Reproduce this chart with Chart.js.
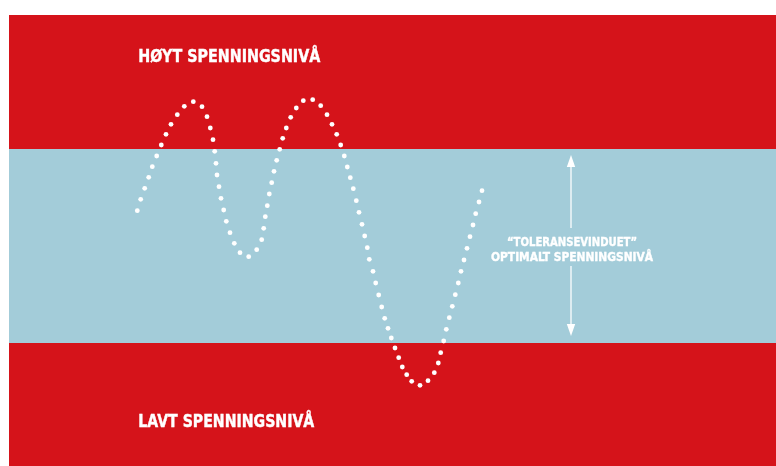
<!DOCTYPE html>
<html><head><meta charset="utf-8">
<script src="https://cdn.jsdelivr.net/npm/chart.js@4"></script>
<style>html,body{margin:0;padding:0;background:#fff;overflow:hidden}canvas{display:block}</style>
</head><body>
<canvas id="c" width="776" height="466" style="width:776px;height:466px"></canvas>
<script>
// Wave samples (x: time units, y: voltage units)
const waveX = [128.3,131.7,135.7,139.7,143.3,147.7,152.3,157,162,168.3,
  175.3,184.3,193,198,201.3,204,205.7,207,208,210,
  212,214.7,217.3,221,225.3,231,239.7,247.7,252.7,254.7,
  256.3,258.3,260.3,262.7,265,267.7,270.7,273.7,277.3,281.7,
  287.3,294.3,303.7,311.7,318,323,327.7,331.7,335.3,338.3,
  341.3,344.3,347.3,350,353,355.7,358.3,360.3,364,366.7,
  369.7,372.7,375.7,379,382.3,386,389.7,393.3,397.7,402.7,
  411,419,425.3,429.3,431.7,434.7,437.3,440.3,443.3,446.3,
  449.3,452,455,458,461,464,466.7,470,473];
const waveY = [255.3,266.7,277.7,288.7,299.3,310,321,331.7,341.7,351.3,
  359.7,364.3,359.3,349.3,338,326.3,314.7,302.7,291,279.3,
  267.7,256,244.7,233.3,222.7,213.3,209.3,216.3,226.3,237.7,
  249.3,260.3,272,283.3,294.7,305.7,316.7,327.7,338,348.7,
  358,365.3,366.3,360.3,351.3,341.7,331.7,321,310,299,
  288.3,277.3,265.3,253.7,241.7,230,218.3,206.7,194.7,183,
  171,159,147.7,137.7,128,118,108.3,99,91.3,84.7,
  80.7,85.3,93.3,103,113.3,125,136.7,148.3,159.7,171.3,
  183,194.7,206,217.7,229.3,241,252.3,264,275.3];
// Axis ranges
const xRange = [0, 767];
const yRange = [0, 451];
// Tolerance window limits (y units)
const toleranceBand = [123, 317];
// Arrow: x, tip values and gap for the label
const arrowX = 562;
const arrowTips = [130, 311];
const arrowGap = [200, 238];
// Labels and their anchor values [x, y]
const labelHigh = "HØYT SPENNINGSNIVÅ";
const labelLow = "LAVT SPENNINGSNIVÅ";
const labelWindow = ["“TOLERANSEVINDUET”", "OPTIMALT SPENNINGSNIVÅ"];
const labelHighPos = [129.3, 404.3];
const labelLowPos = [129.3, 38.7];
const labelWindowPos = [[563, 220.3], [563, 205.3]];

const RED = '#D5131A', BLUE = '#A3CCD9', WHITE = '#FFFFFF';
const FONT = '"Liberation Sans Narrow","DejaVu Sans Condensed","Roboto",sans-serif';

function fitText(ctx, text, x, y, size, targetW, align) {
  ctx.font = 'bold ' + size + 'px ' + FONT;
  const w = ctx.measureText(text).width;
  const s = targetW / w;
  ctx.save();
  ctx.translate(x, y);
  ctx.scale(s, 1);
  ctx.textAlign = align;
  ctx.textBaseline = 'alphabetic';
  ctx.fillStyle = WHITE;
  ctx.strokeStyle = WHITE;
  ctx.lineWidth = 0.4;
  ctx.fillText(text, 0, 0);
  ctx.strokeText(text, 0, 0);
  ctx.restore();
}

const bgPlugin = {
  id: 'bands',
  beforeDatasetsDraw(chart) {
    const {ctx, chartArea: a, scales: {x, y}} = chart;
    ctx.save();
    ctx.fillStyle = RED;
    ctx.fillRect(a.left, a.top, a.right - a.left, a.bottom - a.top);
    const yt = y.getPixelForValue(toleranceBand[1]);
    const yb = y.getPixelForValue(toleranceBand[0]);
    ctx.fillStyle = BLUE;
    ctx.fillRect(a.left, yt, a.right - a.left, yb - yt);
    ctx.restore();
  },
  afterDatasetsDraw(chart) {
    const {ctx, scales: {x, y}} = chart;
    ctx.save();
    const ax = x.getPixelForValue(arrowX);
    const top = y.getPixelForValue(arrowTips[1]);
    const bot = y.getPixelForValue(arrowTips[0]);
    const g1 = y.getPixelForValue(arrowGap[1]);
    const g2 = y.getPixelForValue(arrowGap[0]);
    const headH = 12, headW = 4.2;
    ctx.strokeStyle = 'rgba(255,255,255,0.9)';
    ctx.fillStyle = WHITE;
    ctx.lineWidth = 1.4;
    ctx.beginPath();
    ctx.moveTo(ax, top + headH); ctx.lineTo(ax, g1);
    ctx.moveTo(ax, g2); ctx.lineTo(ax, bot - headH);
    ctx.stroke();
    ctx.beginPath();
    ctx.moveTo(ax, top); ctx.lineTo(ax + headW, top + headH); ctx.lineTo(ax - headW, top + headH); ctx.closePath();
    ctx.fill();
    ctx.beginPath();
    ctx.moveTo(ax, bot); ctx.lineTo(ax + headW, bot - headH); ctx.lineTo(ax - headW, bot - headH); ctx.closePath();
    ctx.fill();

    fitText(ctx, labelHigh, x.getPixelForValue(labelHighPos[0]), y.getPixelForValue(labelHighPos[1]), 18, 182, 'left');
    fitText(ctx, labelLow, x.getPixelForValue(labelLowPos[0]), y.getPixelForValue(labelLowPos[1]), 17.5, 176, 'left');
    fitText(ctx, labelWindow[0], x.getPixelForValue(labelWindowPos[0][0]), y.getPixelForValue(labelWindowPos[0][1]), 13, 130, 'center');
    fitText(ctx, labelWindow[1], x.getPixelForValue(labelWindowPos[1][0]), y.getPixelForValue(labelWindowPos[1][1]), 13, 162, 'center');
    ctx.restore();
  }
};

new Chart(document.getElementById('c'), {
  type: 'scatter',
  data: {
    datasets: [{
      data: waveX.map((v, i) => ({x: v, y: waveY[i]})),
      pointRadius: 2.4,
      pointBackgroundColor: WHITE,
      pointBorderWidth: 0,
      showLine: false
    }]
  },
  options: {
    responsive: false,
    devicePixelRatio: 1,
    animation: false,
    layout: {autoPadding: false, padding: {left: 9, top: 15, right: 0, bottom: 0}},
    plugins: {legend: {display: false}, tooltip: {enabled: false}},
    scales: {
      x: {type: 'linear', min: xRange[0], max: xRange[1], display: false},
      y: {type: 'linear', min: yRange[0], max: yRange[1], display: false}
    }
  },
  plugins: [bgPlugin]
});
</script>
</body></html>
